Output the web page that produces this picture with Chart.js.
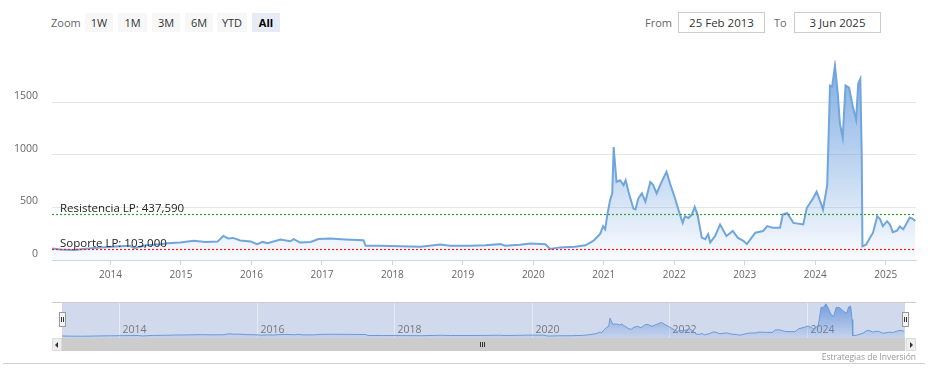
<!DOCTYPE html>
<html>
<head>
<meta charset="utf-8">
<script src="https://cdn.jsdelivr.net/npm/chart.js@4.4.0/dist/chart.umd.min.js"></script>
<style>
  body { margin: 0; background: #fff; font-family: "Open Sans", sans-serif; }
  #wrap { position: relative; width: 928px; height: 383px; overflow: hidden; }
  .lbl { position: absolute; top: 13px; height: 19px; line-height: 19px; font-size: 11px; color: #666; }
  .btn { position: absolute; top: 13px; height: 19px; line-height: 19px; font-size: 11px; color: #333;
         background: #f7f7f7; text-align: center; }
  .btn.on { background: #e6ebf5; color: #000; font-weight: bold; }
  .inp { position: absolute; top: 12px; height: 19px; line-height: 19px; border: 1px solid #ccc;
         font-size: 11.5px; color: #333; text-align: center; }
  #main { position: absolute; left: 0; top: 40px; }
  #navigator { position: absolute; left: 62px; top: 302px; }
  .handle { position: absolute; top: 312px; width: 7px; height: 15px; background: #f2f2f2; border: 1px solid #999;
            box-sizing: border-box; }
  .handle:before, .handle:after { content: ""; position: absolute; top: 4px; width: 1px; height: 5px; background: #333; }
  .handle:before { left: 1px; } .handle:after { left: 3px; }
  #track { position: absolute; left: 52px; top: 338px; width: 864px; height: 13px; background: #f2f2f2; }
  #bar { position: absolute; left: 62px; top: 338px; width: 843px; height: 13px; background: #cccccc; }
  .arrow { position: absolute; top: 338px; width: 10px; height: 13px; background: #eeeeee; box-sizing: border-box;
           border: 1px solid #ddd; }
  .rifle { position: absolute; top: 342px; width: 1px; height: 5px; background: #333; }
  #credit { position: absolute; right: 12px; top: 351px; font-size: 8.5px; color: #999; }
  #bottomline { position: absolute; left: 3px; top: 363px; width: 922px; height: 1px; background: #d0d0d0; }
</style>
</head>
<body>
<div id="wrap">
  <div class="lbl" style="left:51px">Zoom</div>
  <div class="btn" style="left:85px;width:28px">1W</div>
  <div class="btn" style="left:118px;width:29px">1M</div>
  <div class="btn" style="left:152px;width:28px">3M</div>
  <div class="btn" style="left:185px;width:28px">6M</div>
  <div class="btn" style="left:217px;width:30px">YTD</div>
  <div class="btn on" style="left:252px;width:28px">All</div>

  <div class="lbl" style="left:645px">From</div>
  <div class="inp" style="left:678px;width:85px">25 Feb 2013</div>
  <div class="lbl" style="left:774px">To</div>
  <div class="inp" style="left:794px;width:85px">3 Jun 2025</div>

  <canvas id="main" width="928" height="250"></canvas>
  <canvas id="navigator" width="843" height="36"></canvas>

  <div style="position:absolute;left:52px;top:302px;width:864px;height:1px;background:#ccc"></div>
  <div id="track"></div>
  <div id="bar"></div>
  <div class="arrow" style="left:52px"><div style="position:absolute;left:2px;top:3px;border-right:3px solid #333;border-top:3px solid transparent;border-bottom:3px solid transparent"></div></div>
  <div class="arrow" style="left:906px"><div style="position:absolute;left:3px;top:3px;border-left:3px solid #333;border-top:3px solid transparent;border-bottom:3px solid transparent"></div></div>
  <div class="rifle" style="left:480px"></div>
  <div class="rifle" style="left:482px"></div>
  <div class="rifle" style="left:484px"></div>
  <div class="handle" style="left:59px"></div>
  <div class="handle" style="left:902px"></div>
  <div id="credit">Estrategias de Inversión</div>
  <div id="bottomline"></div>
</div>

<script>
// Price history (decimal years / values)
const dates = [
  2013.17, 2013.29, 2013.48, 2013.65, 2013.86, 2014.07, 2014.28, 2014.34, 2014.50, 2014.71,
  2014.81, 2014.99, 2015.18, 2015.35, 2015.52, 2015.60, 2015.67, 2015.74, 2015.84, 2015.99,
  2016.08, 2016.16, 2016.23, 2016.41, 2016.55, 2016.60, 2016.69, 2016.84, 2016.95, 2017.12,
  2017.33, 2017.59, 2017.62, 2017.83, 2018.11, 2018.40, 2018.68, 2018.82, 2019.10, 2019.32,
  2019.53, 2019.60, 2019.81, 2019.96, 2020.17, 2020.24, 2020.38, 2020.59, 2020.74, 2020.85,
  2020.92, 2020.95, 2020.99, 2021.02, 2021.05, 2021.09, 2021.12, 2021.14, 2021.18, 2021.23,
  2021.28, 2021.31, 2021.35, 2021.42, 2021.45, 2021.49, 2021.54, 2021.59, 2021.66, 2021.70,
  2021.75, 2021.82, 2021.89, 2021.94, 2022.01, 2022.08, 2022.12, 2022.15, 2022.20, 2022.25,
  2022.29, 2022.33, 2022.39, 2022.44, 2022.48, 2022.51, 2022.58, 2022.65, 2022.74, 2022.83,
  2022.90, 2022.98, 2023.03, 2023.15, 2023.26, 2023.32, 2023.40, 2023.50, 2023.54, 2023.60,
  2023.69, 2023.83, 2023.88, 2023.97, 2024.02, 2024.07, 2024.11, 2024.17, 2024.21, 2024.24,
  2024.28, 2024.32, 2024.35, 2024.39, 2024.43, 2024.48, 2024.53, 2024.58, 2024.61, 2024.64,
  2024.66, 2024.67, 2024.72, 2024.82, 2024.88, 2024.92, 2024.96, 2025.02, 2025.06, 2025.10,
  2025.16, 2025.20, 2025.25, 2025.30, 2025.34, 2025.39, 2025.42
];
const values = [
  110, 100, 95, 108, 120, 128, 135, 112, 140, 150,
  160, 167, 182, 172, 175, 229, 205, 210, 185, 176,
  150, 172, 160, 195, 178, 198, 166, 172, 200, 204,
  196, 188, 135, 135, 132, 126, 148, 135, 135, 140,
  151, 135, 145, 157, 150, 105, 120, 126, 140, 182,
  229, 250, 322, 292, 432, 572, 634, 1075, 743, 759,
  712, 759, 650, 490, 481, 587, 634, 556, 743, 715,
  634, 743, 840, 727, 587, 432, 353, 416, 400, 432,
  505, 432, 213, 198, 245, 166, 229, 338, 229, 276,
  213, 182, 151, 260, 276, 322, 306, 306, 432, 447,
  353, 338, 494, 587, 650, 560, 479, 712, 1660, 1650,
  1850, 1580, 1300, 1164, 1660, 1640, 1470, 1335, 1680, 1725,
  1000, 130, 145, 260, 416, 390, 322, 369, 338, 265,
  280, 320, 292, 353, 405, 390, 370
];

const yearTicks = [2014, 2015, 2016, 2017, 2018, 2019, 2020, 2021, 2022, 2023, 2024, 2025];
const navYearTicks = [2014, 2016, 2018, 2020, 2022, 2024];
const yTicks = [0, 500, 1000, 1500];

// Long-term support / resistance levels
const levelValues = [437.59, 103.0];
const levelLabels = ["Resistencia LP: 437,590", "Soporte LP: 103,000"];
const levelColors = ["#33a033", "#ff1a1a"];

const points = dates.map((d, i) => ({ x: d, y: values[i] }));

function areaFill(top, bottom) {
  return function(context) {
    const { ctx, chartArea } = context.chart;
    if (!chartArea) return null;
    const g = ctx.createLinearGradient(0, chartArea.top, 0, chartArea.bottom);
    g.addColorStop(0, top);
    g.addColorStop(1, bottom);
    return g;
  };
}

// dashed level lines with their labels
const levelLines = {
  id: 'levelLines',
  afterDatasetsDraw(chart) {
    const { ctx, chartArea, scales: { y } } = chart;
    ctx.save();
    levelValues.forEach((v, i) => {
      const py = Math.round(y.getPixelForValue(v)) + 0.5;
      ctx.strokeStyle = levelColors[i];
      ctx.lineWidth = 1.2;
      ctx.setLineDash([2, 2]);
      ctx.beginPath();
      ctx.moveTo(chartArea.left, py);
      ctx.lineTo(chartArea.right, py);
      ctx.stroke();
      ctx.setLineDash([]);
      ctx.fillStyle = '#222';
      ctx.font = '11.5px "Open Sans"';
      ctx.textBaseline = 'alphabetic';
      ctx.fillText(levelLabels[i], chartArea.left + 8, py - 3);
    });
    ctx.restore();
  }
};

new Chart(document.getElementById("main"), {
  type: 'line',
  data: {
    datasets: [{
      data: points,
      borderColor: '#70a6dc',
      borderWidth: 2,
      pointRadius: 0,
      tension: 0,
      fill: 'origin',
      backgroundColor: areaFill('rgba(105,158,222,0.85)', 'rgba(105,158,222,0.04)')
    }]
  },
  options: {
    responsive: false,
    animation: false,
    layout: { padding: { top: 16, right: 12, bottom: 0, left: 0 } },
    plugins: {
      legend: { display: false },
      tooltip: { enabled: false }
    },
    scales: {
      x: {
        type: 'linear',
        min: 2013.17,
        max: 2025.43,
        afterBuildTicks: s => { s.ticks = yearTicks.map(v => ({ value: v })); },
        afterFit: s => { s.height = 30; },
        grid: { drawOnChartArea: false, tickLength: 5, color: '#ccd6eb' },
        border: { color: '#ccd6eb' },
        ticks: {
          autoSkip: false, maxRotation: 0, padding: 4, color: '#666',
          font: { family: 'Open Sans', size: 10 },
          callback: v => String(v)
        }
      },
      y: {
        min: 0,
        max: 1900,
        afterBuildTicks: s => { s.ticks = yTicks.map(v => ({ value: v })); },
        afterFit: s => { s.width = 52; },
        grid: { color: '#e6e6e6', drawTicks: false },
        border: { display: false },
        ticks: {
          padding: 14, labelOffset: -6, color: '#666',
          font: { family: 'Open Sans', size: 10.5 },
          callback: v => String(v)
        }
      }
    }
  },
  plugins: [levelLines]
});

// navigator mask, grid and year labels
const navBack = {
  id: 'navBack',
  beforeDatasetsDraw(chart) {
    const { ctx, chartArea, scales: { x } } = chart;
    ctx.save();
    ctx.fillStyle = 'rgba(102,133,194,0.3)';
    ctx.fillRect(chartArea.left, chartArea.top, chartArea.right - chartArea.left, chartArea.bottom - chartArea.top);
    ctx.font = '10.5px "Open Sans"';
    ctx.fillStyle = '#777';
    ctx.strokeStyle = 'rgba(255,255,255,0.45)';
    ctx.lineWidth = 1;
    navYearTicks.forEach(v => {
      const px = Math.round(x.getPixelForValue(v)) + 0.5;
      ctx.beginPath();
      ctx.moveTo(px, chartArea.top);
      ctx.lineTo(px, chartArea.bottom);
      ctx.stroke();
      ctx.fillText(String(v), px + 3, chartArea.top + 31);
    });
    ctx.restore();
  }
};

new Chart(document.getElementById("navigator"), {
  type: 'line',
  data: {
    datasets: [{
      data: points,
      borderColor: '#6b9ad6',
      borderWidth: 1,
      pointRadius: 0,
      tension: 0,
      fill: 'origin',
      backgroundColor: areaFill('rgba(95,145,220,0.85)', 'rgba(95,145,220,0.1)')
    }]
  },
  options: {
    responsive: false,
    animation: false,
    layout: { padding: 0 },
    plugins: {
      legend: { display: false },
      tooltip: { enabled: false }
    },
    scales: {
      x: { type: 'linear', display: false, min: 2013.17, max: 2025.43 },
      y: { display: false, min: 0, max: 1950 }
    }
  },
  plugins: [navBack]
});
</script>
</body>
</html>
